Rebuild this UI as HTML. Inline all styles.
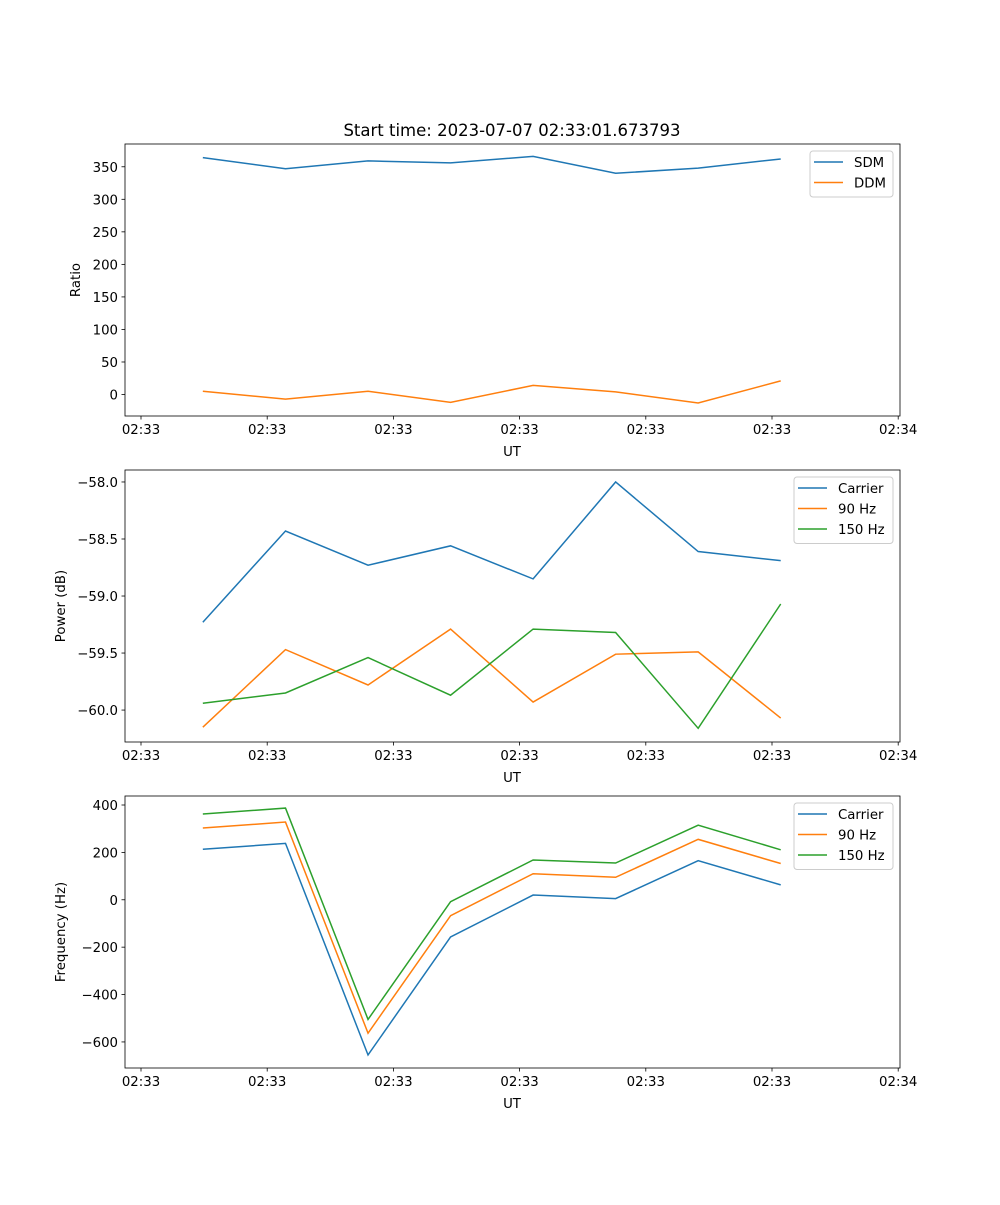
<!DOCTYPE html>
<html><head><meta charset="utf-8"><style>
html,body{margin:0;padding:0;background:#fff;}
svg text{font-family:"DejaVu Sans","Liberation Sans",sans-serif;fill:#000;}
</style></head><body>
<svg id="fig" width="1000" height="1200" xmlns="http://www.w3.org/2000/svg">
<text x="512" y="136" font-size="16.5" text-anchor="middle">Start time: 2023-07-07 02:33:01.673793</text>
</svg>
<script>
const times = [4.9, 11.45, 17.99, 24.53, 31.07, 37.61, 44.15, 50.69];
const tickVals = [0, 10, 20, 30, 40, 50, 60];
const tickLabels = ["02:33","02:33","02:33","02:33","02:33","02:33","02:34"];
const sdm = [364, 347, 359, 356, 366, 340, 348, 362];
const ddm = [5, -7, 5, -12, 14, 4, -13, 21];
const pCarrier = [-59.23, -58.43, -58.73, -58.56, -58.85, -58.00, -58.61, -58.69];
const p90 = [-60.15, -59.47, -59.78, -59.29, -59.93, -59.51, -59.49, -60.07];
const p150 = [-59.94, -59.85, -59.54, -59.87, -59.29, -59.32, -60.16, -59.07];
const fCarrier = [213, 238, -655, -157, 20, 5, 165, 63];
const f90 = [303, 328, -563, -67, 110, 95, 255, 153];
const f150 = [362, 387, -505, -8, 168, 155, 315, 211];
const ratioTicks = [0,50,100,150,200,250,300,350];
const powerTicks = [-60.0,-59.5,-59.0,-58.5,-58.0];
const freqTicks = [-600,-400,-200,0,200,400];

const NS="http://www.w3.org/2000/svg";
const svg=document.getElementById('fig');
function mk(tag,attrs,parent){const e=document.createElementNS(NS,tag);for(const k in attrs)e.setAttribute(k,attrs[k]);(parent||svg).appendChild(e);return e;}
const L=125,R=900;
const FS=13.3;
const xs=t=>141+t*12.62;
const colors=["#1f77b4","#ff7f0e","#2ca02c"];

function panel(top,bot,ymin,ymax,yticks,yfmt,ylabel,series,names,legW,legX,pname){
  const g=mk('g',{});
  
  
  const ys=v=>bot-(v-ymin)/(ymax-ymin)*(bot-top);
  series.forEach((s,i)=>{
    const p=mk('polyline',{points:s.map((v,j)=>xs(times[j])+','+ys(v)).join(' '),fill:'none',stroke:colors[i],'stroke-width':1.5},g);
    
    
  });
  const fr=mk('rect',{x:L,y:top,width:R-L,height:bot-top,fill:'none',stroke:'#000','stroke-width':0.8},g);
  
  
  tickVals.forEach((t,i)=>{
    const x=xs(t);
    mk('line',{x1:x,x2:x,y1:bot,y2:bot+3.5,stroke:'#000','stroke-width':0.8},g);
    const tx=mk('text',{x:x,y:bot+18,'font-size':FS,'text-anchor':'middle'},g);
    tx.textContent=tickLabels[i];
    
    
  });
  yticks.forEach(v=>{
    const y=ys(v);
    mk('line',{x1:L-3.5,x2:L,y1:y,y2:y,stroke:'#000','stroke-width':0.8},g);
    const tx=mk('text',{x:L-7,y:y+5,'font-size':FS,'text-anchor':'end'},g);
    tx.textContent=yfmt(v);
    
    
  });
  const xl=mk('text',{x:512,y:bot+40,'font-size':FS,'text-anchor':'middle'},g);
  xl.textContent='UT';
  
  
  const yx=pname==='ratio-panel'?80:65;
  const yl=mk('text',{x:yx,y:(top+bot)/2,'font-size':FS,'text-anchor':'middle',transform:`rotate(-90 ${yx} ${(top+bot)/2})`},g);
  yl.textContent=ylabel;
  
  
  const lg=mk('g',{},g);
  
  
  mk('rect',{x:legX,y:top+7,width:legW,height:names.length*20.5+5,rx:3,fill:'#fff','fill-opacity':0.8,stroke:'#ccc','stroke-width':1},lg);
  names.forEach((n,i)=>{
    const y=top+18+i*20.5;
    const e=mk('g',{},lg);
    
    
    mk('line',{x1:legX+4,x2:legX+33,y1:y,y2:y,stroke:colors[i],'stroke-width':1.5},e);
    const t=mk('text',{x:legX+44,y:y+5,'font-size':FS},e);
    t.textContent=n;
  });
}
panel(144,416,-33,385,ratioTicks,v=>v.toString().replace('-','\u2212'),'Ratio',[sdm,ddm],['SDM','DDM'],83,810,'ratio-panel');
panel(470,742,-60.28,-57.895,powerTicks,v=>v.toFixed(1).replace('-','\u2212'),'Power (dB)',[pCarrier,p90,p150],['Carrier','90 Hz','150 Hz'],99,794,'power-panel');
panel(796,1068,-710,438,freqTicks,v=>v.toString().replace('-','\u2212'),'Frequency (Hz)',[fCarrier,f90,f150],['Carrier','90 Hz','150 Hz'],99,794,'frequency-panel');
</script>
</body></html>
